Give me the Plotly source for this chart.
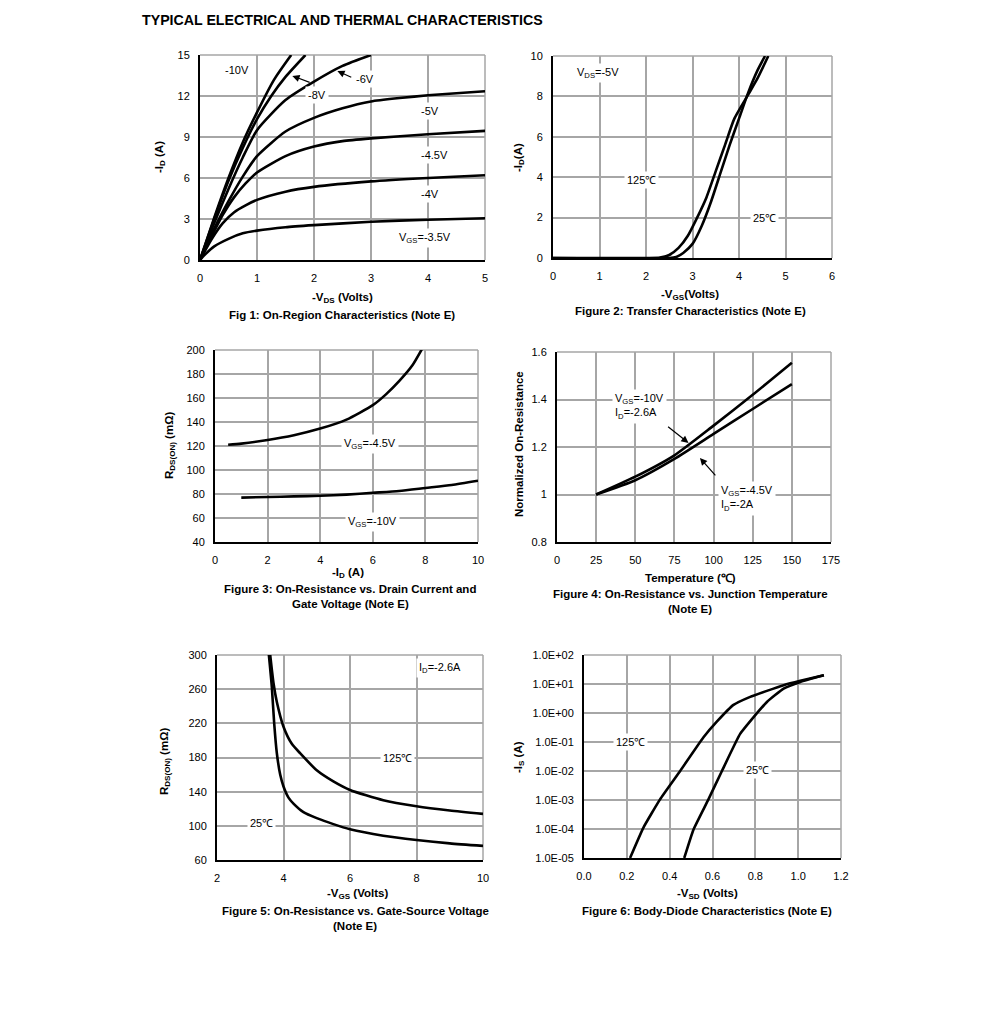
import plotly.graph_objects as go
import math

PAGE_W, PAGE_H = 991, 1023
OFF = 8  # body margin of the html page
W, H = PAGE_W - 2 * OFF, PAGE_H - 2 * OFF
FONT = "Liberation Sans, Arial, sans-serif"

# ---------------- DATA ----------------
# Fig 1: -ID vs -VDS
f1_vds_35 = [0, 0.1, 0.25, 0.5, 0.75, 1, 1.5, 2, 3, 4, 5]
f1_id_35 = [0, 0.45, 1.0, 1.55, 1.95, 2.15, 2.4, 2.55, 2.8, 2.95, 3.05]
f1_vds_40 = [0, 0.2, 0.4, 0.6, 0.8, 1, 1.5, 2, 3, 4, 5]
f1_id_40 = [0, 1.5, 2.7, 3.5, 4.0, 4.4, 5.0, 5.35, 5.75, 6.0, 6.2]
f1_vds_45 = [0, 0.2, 0.4, 0.6, 0.8, 1, 1.5, 2, 2.5, 3, 4, 5]
f1_id_45 = [0, 1.7, 3.3, 4.6, 5.6, 6.4, 7.6, 8.3, 8.7, 8.9, 9.2, 9.45]
f1_vds_50 = [0, 0.25, 0.5, 0.75, 1, 1.5, 2, 2.5, 3, 3.5, 4, 5]
f1_id_50 = [0, 2.3, 4.3, 6.1, 7.6, 9.4, 10.4, 11.1, 11.6, 11.85, 12.05, 12.35]
f1_vds_60 = [0, 0.25, 0.5, 0.75, 1, 1.5, 2, 2.5, 3]
f1_id_60 = [0, 2.7, 5.2, 7.5, 9.5, 11.7, 13.05, 14.2, 15.0]
f1_vds_80 = [0, 0.25, 0.5, 0.75, 1, 1.25, 1.5, 1.85]
f1_id_80 = [0, 3.0, 5.8, 8.2, 10.3, 12.0, 13.4, 15.0]
f1_vds_100 = [0, 0.25, 0.5, 0.75, 1, 1.3, 1.6]
f1_id_100 = [0, 3.1, 6.0, 8.6, 10.8, 13.2, 15.0]

# Fig 2: -ID vs -VGS
f2_vgs_125 = [0, 2.0, 2.3, 2.5, 2.7, 2.9, 3.1, 3.3, 3.5, 3.7, 3.9, 4.2, 4.4, 4.63]
f2_id_125 = [0, 0, 0.02, 0.15, 0.5, 1.1, 2.0, 3.0, 4.3, 5.6, 6.9, 8.1, 8.9, 10]
f2_vgs_25 = [0, 2.5, 2.65, 2.8, 3.0, 3.2, 3.4, 3.6, 3.8, 4.0, 4.2, 4.4, 4.56]
f2_id_25 = [0, 0, 0.05, 0.25, 0.7, 1.6, 2.8, 4.2, 5.6, 6.9, 8.2, 9.3, 10]

# Fig 3: RDS(ON) vs -ID
f3_id_45 = [0.5, 1, 2, 3, 4, 5, 6, 6.5, 7, 7.5, 7.9]
f3_r_45 = [121, 122, 125, 129, 134.5, 142, 154, 163, 174, 187, 202]
f3_id_10 = [1, 2, 3, 4, 5, 6, 7, 8, 9, 10]
f3_r_10 = [77, 77.5, 78, 78.5, 79.5, 81, 82.5, 85, 87.5, 91]

# Fig 4: Normalized On-Resistance vs Temperature
f4_t = [25, 50, 75, 100, 125, 150]
f4_r_10 = [1.0, 1.075, 1.165, 1.29, 1.42, 1.555]
f4_r_45 = [1.0, 1.06, 1.15, 1.255, 1.36, 1.465]

# Fig 5: RDS(ON) vs -VGS
f5_vgs_125 = [3.6, 3.7, 3.8, 4.0, 4.25, 4.5, 5, 5.5, 6, 7, 8, 9, 10]
f5_r_125 = [300, 267, 245, 216, 196, 185, 165, 152, 142, 130, 123, 118, 114]
f5_vgs_25 = [3.56, 3.65, 3.72, 3.8, 3.9, 4.0, 4.15, 4.3, 4.6, 5, 5.5, 6, 7, 8, 9, 10]
f5_r_25 = [300, 262, 220, 185, 160, 146, 133, 126, 116, 109, 102, 96, 88.5, 83.5, 79.5, 76.5]

# Fig 6: -IS vs -VSD (log)
f6_vsd_125 = [0.215, 0.277, 0.355, 0.449, 0.558, 0.62, 0.698, 0.776, 0.854, 0.932, 1.01, 1.12]
f6_is_125 = [1e-5, 1.1e-4, 1.05e-3, 1.0e-2, 0.145, 0.5, 1.9, 3.6, 5.8, 9.1, 12.9, 20]
f6_vsd_25 = [0.468, 0.511, 0.581, 0.644, 0.729, 0.792, 0.854, 0.932, 1.01, 1.12]
f6_is_25 = [1e-5, 9.5e-5, 1.05e-3, 1.0e-2, 0.19, 0.72, 2.4, 6.9, 11.8, 20]

f6_tickvals = [1e-5, 1e-4, 1e-3, 1e-2, 1e-1, 1e0, 1e1, 1e2]
f6_ticktext = ["1.0E-05", "1.0E-04", "1.0E-03", "1.0E-02", "1.0E-01", "1.0E+00", "1.0E+01", "1.0E+02"]
f4_tickvals = [0.8, 1.0, 1.2, 1.4, 1.6]
f4_ticktext = ["0.8", "1", "1.2", "1.4", "1.6"]

# ---------------- LAYOUT HELPERS ----------------
def px_x(p):
    return (p - OFF) / W

def px_y(p):
    return 1 - (p - OFF) / H

# plot areas in page pixels: (left, right, top, bottom)
boxes = {
    1: (200, 485, 55, 260),
    2: (553, 832, 56, 258),
    3: (215, 478, 350, 542),
    4: (557, 831, 352, 542),
    5: (217, 483, 655, 860),
    6: (584, 841, 655, 858),
}

fig = go.Figure()
GRID = "#a6a6a6"

def add_curve(n, x, y, smoothing=0.6):
    xa = "x" if n == 1 else f"x{n}"
    ya = "y" if n == 1 else f"y{n}"
    line = dict(color="black", width=2.6, shape="spline", smoothing=smoothing)
    fig.add_trace(go.Scatter(x=x, y=y, mode="lines", line=line,
                             xaxis=xa, yaxis=ya, showlegend=False, hoverinfo="skip"))

for xs, ys in [(f1_vds_35, f1_id_35), (f1_vds_40, f1_id_40), (f1_vds_45, f1_id_45), (f1_vds_50, f1_id_50),
               (f1_vds_60, f1_id_60), (f1_vds_80, f1_id_80), (f1_vds_100, f1_id_100)]:
    add_curve(1, xs, ys)
add_curve(2, f2_vgs_125, f2_id_125)
add_curve(2, f2_vgs_25, f2_id_25)
add_curve(3, f3_id_45, f3_r_45)
add_curve(3, f3_id_10, f3_r_10)
add_curve(4, f4_t, f4_r_10)
add_curve(4, f4_t, f4_r_45)
add_curve(5, f5_vgs_125, f5_r_125)
add_curve(5, f5_vgs_25, f5_r_25)
add_curve(6, f6_vsd_125, f6_is_125, smoothing=0.4)
add_curve(6, f6_vsd_25, f6_is_25, smoothing=0.4)

axis_specs = {
    1: dict(xr=[0, 5], xd=1, x0=0, yr=[0, 15], yd=3, y0=0),
    2: dict(xr=[0, 6], xd=1, x0=0, yr=[0, 10], yd=2, y0=0),
    3: dict(xr=[0, 10], xd=2, x0=0, yr=[40, 200], yd=20, y0=40),
    4: dict(xr=[0, 175], xd=25, x0=0, yr=[0.8, 1.6], yd=0.2, y0=0.8),
    5: dict(xr=[2, 10], xd=2, x0=2, yr=[60, 300], yd=40, y0=60),
    6: dict(xr=[0, 1.2], xd=0.2, x0=0, yr=[-5, 2], yd=None, y0=None),
}

tickfont = dict(family=FONT, size=11, color="black")
layout = {}
for n, (l, r, t, b) in boxes.items():
    s = axis_specs[n]
    xk = "xaxis" if n == 1 else f"xaxis{n}"
    yk = "yaxis" if n == 1 else f"yaxis{n}"
    ya = "y" if n == 1 else f"y{n}"
    xa = "x" if n == 1 else f"x{n}"
    xax = dict(domain=[px_x(l), px_x(r)], range=s["xr"], dtick=s["xd"], tick0=s["x0"], anchor=ya,
               showgrid=True, gridcolor=GRID, gridwidth=1.5, showline=True, linecolor="black", linewidth=2,
               zeroline=False, ticks="", tickfont=tickfont, fixedrange=True, automargin=False,
               ticklabelstandoff=7)
    if n == 6:
        xax["tickformat"] = ".1f"
    yax = dict(domain=[px_y(b), px_y(t)], range=s["yr"], anchor=xa,
               showgrid=True, gridcolor=GRID, gridwidth=1.5, showline=True, linecolor="black", linewidth=2,
               zeroline=False, ticks="", tickfont=tickfont, fixedrange=True, automargin=False,
               ticklabelstandoff=6)
    if n == 6:
        yax.update(type="log", tickvals=f6_tickvals, ticktext=f6_ticktext)
    elif n == 4:
        yax.update(tickvals=f4_tickvals, ticktext=f4_ticktext)
    else:
        yax.update(dtick=s["yd"], tick0=s["y0"])
    layout[xk] = xax
    layout[yk] = yax

shapes = []
for n, (l, r, t, b) in boxes.items():
    xa = "x" if n == 1 else f"x{n}"
    ya = "y" if n == 1 else f"y{n}"
    shapes.append(dict(type="line", xref=f"{xa} domain", yref=f"{ya} domain", x0=0, x1=1, y0=1, y1=1,
                       line=dict(color=GRID, width=1.5), layer="below"))
    shapes.append(dict(type="line", xref=f"{xa} domain", yref=f"{ya} domain", x0=1, x1=1, y0=0, y1=1,
                       line=dict(color=GRID, width=1.5), layer="below"))

ann = []

def paper_text(text, x, y, size=11.5, bold=True, angle=0, xanchor="center"):
    ann.append(dict(text=f"<b>{text}</b>" if bold else text, x=px_x(x), y=px_y(y), xref="paper", yref="paper",
                    showarrow=False, textangle=angle, xanchor=xanchor, yanchor="middle",
                    font=dict(family=FONT, size=size, color="black")))

def data_text(n, text, x, y, xanchor="center", log=False):
    xa = "x" if n == 1 else f"x{n}"
    ya = "y" if n == 1 else f"y{n}"
    yy = math.log10(y) if log else y
    ann.append(dict(text=text, x=x, y=yy, xref=xa, yref=ya, showarrow=False, xanchor=xanchor, yanchor="middle",
                    bgcolor="white", borderpad=2, align="left",
                    font=dict(family=FONT, size=11, color="black")))

def data_arrow(n, x_head, y_head, x_tail, y_tail):
    xa = "x" if n == 1 else f"x{n}"
    ya = "y" if n == 1 else f"y{n}"
    ann.append(dict(text="", x=x_head, y=y_head, ax=x_tail, ay=y_tail, xref=xa, yref=ya, axref=xa, ayref=ya,
                    showarrow=True, arrowhead=2, arrowsize=1.2, arrowwidth=1.2, arrowcolor="black"))

# Main title
paper_text("TYPICAL ELECTRICAL AND THERMAL CHARACTERISTICS", 140, 20, size=14.2, xanchor="left")

# Fig 1
paper_text("-V<sub>DS</sub> (Volts)", 342, 298)
paper_text("Fig 1: On-Region Characteristics (Note E)", 342, 315)
paper_text("-I<sub>D</sub> (A)", 160, 157, angle=-90)
data_text(1, "-10V", 0.65, 13.9)
data_text(1, "-8V", 2.06, 12.1)
data_text(1, "-6V", 2.9, 13.25)
data_text(1, "-5V", 4.03, 10.9)
data_text(1, "-4.5V", 4.12, 7.7)
data_text(1, "-4V", 4.03, 4.8)
data_text(1, "V<sub>GS</sub>=-3.5V", 3.95, 1.6)
data_arrow(1, 1.62, 13.47, 1.95, 12.96)
data_arrow(1, 2.41, 13.83, 2.68, 13.32)

# Fig 2
paper_text("-V<sub>GS</sub>(Volts)", 690, 295)
paper_text("Figure 2: Transfer Characteristics (Note E)", 690, 311)
paper_text("-I<sub>D</sub>(A)", 519, 157, angle=-90)
data_text(2, "V<sub>DS</sub>=-5V", 0.97, 9.15)
data_text(2, "125℃", 1.9, 3.86)
data_text(2, "25℃", 4.55, 1.98)

# Fig 3
paper_text("-I<sub>D</sub> (A)", 348, 573)
paper_text("Figure 3: On-Resistance vs. Drain Current and", 350, 589)
paper_text("Gate Voltage (Note E)", 350, 604)
paper_text("R<sub>DS(ON)</sub> (mΩ)", 170, 446, angle=-90)
data_text(3, "V<sub>GS</sub>=-4.5V", 5.9, 121.7)
data_text(3, "V<sub>GS</sub>=-10V", 6.0, 56.7)

# Fig 4
paper_text("Temperature (℃)", 690, 578)
paper_text("Figure 4: On-Resistance vs. Junction Temperature", 690, 594)
paper_text("(Note E)", 690, 609)
paper_text("Normalized On-Resistance", 519, 444, angle=-90)
data_text(4, "V<sub>GS</sub>=-10V<br>I<sub>D</sub>=-2.6A", 35, 1.37, xanchor="left")
data_text(4, "V<sub>GS</sub>=-4.5V<br>I<sub>D</sub>=-2A", 103, 0.985, xanchor="left")
data_arrow(4, 84, 1.217, 70, 1.29)
data_arrow(4, 91.3, 1.154, 102, 1.074)

# Fig 5
paper_text("-V<sub>GS</sub> (Volts)", 357, 894)
paper_text("Figure 5: On-Resistance vs. Gate-Source Voltage", 355, 911)
paper_text("(Note E)", 355, 926)
paper_text("R<sub>DS(ON)</sub> (mΩ)", 165, 762, angle=-90)
data_text(5, "I<sub>D</sub>=-2.6A", 8.7, 284.8)
data_text(5, "125℃", 7.44, 179.4)
data_text(5, "25℃", 3.35, 103)

# Fig 6
paper_text("-V<sub>SD</sub> (Volts)", 707, 894)
paper_text("Figure 6: Body-Diode Characteristics (Note E)", 707, 911)
paper_text("-I<sub>S</sub> (A)", 519, 757, angle=-90)
data_text(6, "125℃", 0.215, 0.1, log=True)
data_text(6, "25℃", 0.81, 0.0107, log=True)

fig.update_layout(width=W, height=H, margin=dict(l=0, r=0, t=0, b=0), paper_bgcolor="white", plot_bgcolor="white",
                  shapes=shapes, annotations=ann, showlegend=False, font=dict(family=FONT, color="black"), **layout)

fig.write_html("out.html", config={"displayModeBar": False})
